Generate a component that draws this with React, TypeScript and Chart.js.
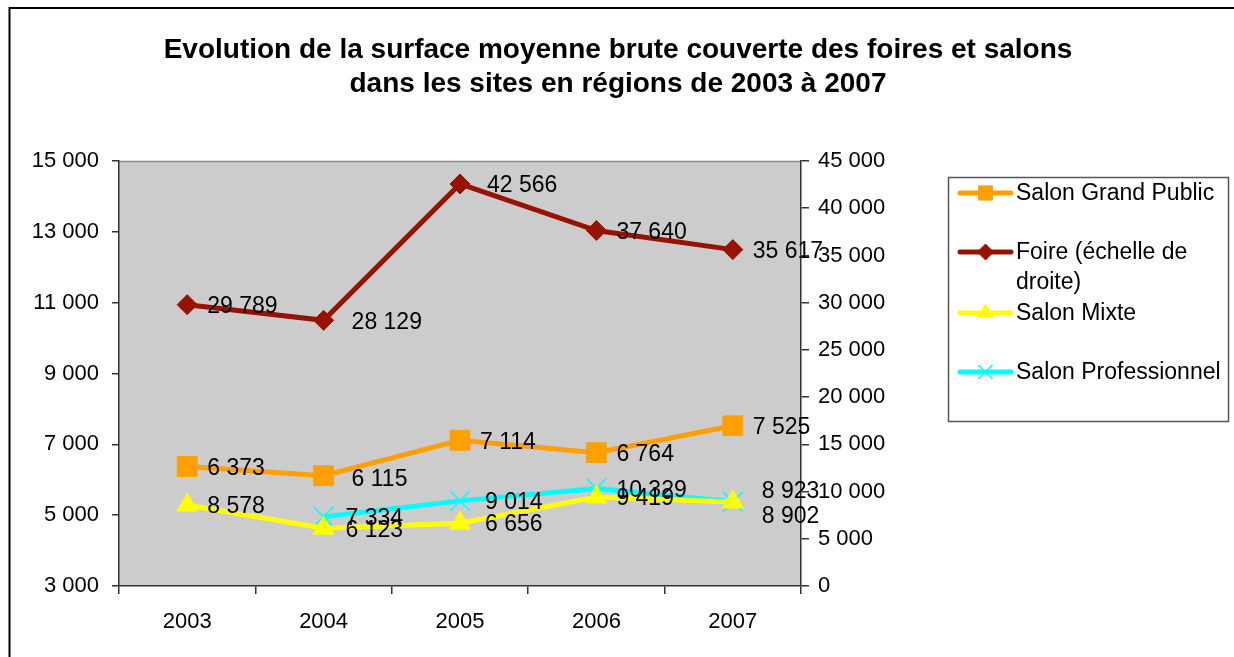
import React, { useEffect, useRef } from 'react';
import { Chart, registerables } from 'chart.js';
import { drawPoint } from 'chart.js/helpers';

Chart.register(...registerables);

// ---- data ----
const years = ['2003', '2004', '2005', '2006', '2007'];
const salonGrandPublic = [6373, 6115, 7114, 6764, 7525];
const foire = [29789, 28129, 42566, 37640, 35617];
const salonMixte = [8578, 6123, 6656, 9419, 8902];
const salonProfessionnel = [null, 7334, 9014, 10329, 8923];
const seriesNames = ['Salon Grand Public', 'Foire (échelle de droite)', 'Salon Mixte', 'Salon Professionnel'];
const legendLines = [['Salon Grand Public'], ['Foire (échelle de', 'droite)'], ['Salon Mixte'], ['Salon Professionnel']];
const titleLines = [
  'Evolution de la surface moyenne brute couverte des foires et salons',
  'dans les sites en régions de 2003 à 2007',
];

const FONT = '"Liberation Sans", Arial, Helvetica, sans-serif';
const fmt = (v: number) => String(Math.round(v)).replace(/\B(?=(\d{3})+(?!\d))/g, ' ');

const COLORS = ['#FFA000', '#981200', '#FFFF00', '#00FFFF'];

const decorPlugin = {
  id: 'decor',
  beforeDraw(chart: any) {
    const { ctx, chartArea: a } = chart;
    ctx.save();
    ctx.fillStyle = '#ffffff';
    ctx.fillRect(0, 0, chart.width, chart.height);
    // outer frame (top & left visible)
    ctx.strokeStyle = '#000';
    ctx.lineWidth = 2;
    ctx.strokeRect(9.5, 8, 1400, 800);
    // plot area
    ctx.fillStyle = '#CCCCCC';
    ctx.fillRect(a.left, a.top, a.right - a.left, a.bottom - a.top);
    ctx.strokeStyle = '#8a8a8a';
    ctx.lineWidth = 1.5;
    ctx.beginPath();
    ctx.moveTo(a.left, a.top + 0.5);
    ctx.lineTo(a.right, a.top + 0.5);
    ctx.stroke();
    // title
    ctx.fillStyle = '#000';
    ctx.font = `bold 28px ${FONT}`;
    ctx.textAlign = 'center';
    ctx.textBaseline = 'alphabetic';
    ctx.fillText(titleLines[0], 618, 57.5);
    ctx.fillText(titleLines[1], 618, 92);
    ctx.restore();
  },
  afterDatasetsDraw(chart: any) {
    const { ctx } = chart;
    ctx.save();
    ctx.font = `23px ${FONT}`;
    ctx.fillStyle = '#000';
    ctx.textAlign = 'left';
    ctx.textBaseline = 'middle';
    chart.data.datasets.forEach((ds: any, di: number) => {
      const meta = chart.getDatasetMeta(di);
      meta.data.forEach((pt: any, i: number) => {
        const v = ds.data[i];
        if (v == null) return;
        const off = (ds.labelOffsets && ds.labelOffsets[i]) || [0, 0];
        ctx.fillText(fmt(v), pt.x + 20 + off[0], pt.y + 2 + off[1]);
      });
    });
    ctx.restore();
  },
  afterDraw(chart: any) {
    const { ctx } = chart;
    ctx.save();
    // legend box
    ctx.strokeStyle = '#555';
    ctx.lineWidth = 1.5;
    ctx.strokeRect(948.5, 177.5, 280, 244);
    const ys = [193, 252, 313, 372];
    const legendStyles = [
      { pointStyle: 'rect', radius: 10 },
      { pointStyle: 'rectRot', radius: 8 },
      { pointStyle: 'triangle', radius: 9 },
      { pointStyle: 'crossRot', radius: 10 },
    ];
    chart.data.datasets.forEach((ds: any, di: number) => {
      const y = ys[di];
      ctx.strokeStyle = COLORS[di];
      ctx.lineWidth = 5;
      ctx.lineCap = 'round';
      ctx.beginPath();
      ctx.moveTo(960, y);
      ctx.lineTo(1011, y);
      ctx.stroke();
      ctx.lineCap = 'butt';
      ctx.fillStyle = COLORS[di];
      ctx.strokeStyle = COLORS[di];
      ctx.lineWidth = di === 3 ? 1.5 : 1;
      drawPoint(ctx, { ...legendStyles[di], rotation: 0, borderWidth: ctx.lineWidth } as any, 985.5, y);
      ctx.fillStyle = '#000';
      ctx.font = `23px ${FONT}`;
      ctx.textAlign = 'left';
      ctx.textBaseline = 'middle';
      legendLines[di].forEach((t, li) => ctx.fillText(t, 1016, y + 1 + li * 30));
    });
    ctx.restore();
  },
};

export default function App() {
  const ref = useRef<HTMLCanvasElement | null>(null);
  useEffect(() => {
    document.body.style.margin = '0';
    const canvas = ref.current!;
    const tickFont = { family: FONT, size: 22 };
    const chart = new Chart(canvas, {
      type: 'line',
      data: {
        labels: years,
        datasets: [
          {
            label: seriesNames[0],
            data: salonGrandPublic,
            yAxisID: 'yLeft',
            borderColor: COLORS[0],
            backgroundColor: COLORS[0],
            borderWidth: 5,
            pointStyle: 'rect',
            pointRadius: 14,
            pointBorderWidth: 1,
            labelOffsets: [[0, 0], [8, 2], [0, 0], [0, 0], [0, 0]],
          } as any,
          {
            label: seriesNames[1],
            data: foire,
            yAxisID: 'yRight',
            borderColor: COLORS[1],
            backgroundColor: COLORS[1],
            borderWidth: 5,
            pointStyle: 'rectRot',
            pointRadius: 10,
            pointBorderWidth: 1,
            labelOffsets: [[0, 0], [8, 0], [7, 0], [0, 0], [0, 0]],
          } as any,
          {
            label: seriesNames[2],
            data: salonMixte,
            yAxisID: 'yRight',
            borderColor: COLORS[2],
            backgroundColor: COLORS[2],
            borderWidth: 5,
            pointStyle: 'triangle',
            pointRadius: 12,
            pointBorderWidth: 1,
            labelOffsets: [[0, 0], [2, 0], [5, 0], [0, 0], [9, 13]],
          } as any,
          {
            label: seriesNames[3],
            data: salonProfessionnel,
            yAxisID: 'yRight',
            borderColor: COLORS[3],
            backgroundColor: COLORS[3],
            borderWidth: 5,
            pointStyle: 'crossRot',
            pointRadius: 14,
            pointBorderWidth: 1.5,
            spanGaps: true,
            labelOffsets: [[0, 0], [2, 0], [5, 0], [0, 0], [9, -12]],
          } as any,
        ],
      },
      options: {
        responsive: false,
        animation: false,
        devicePixelRatio: 1,
        layout: { padding: { top: 161, left: 0, right: 333, bottom: 0 } },
        elements: { line: { tension: 0 } },
        plugins: {
          legend: { display: false },
          title: { display: false },
          tooltip: { enabled: false },
        },
        scales: {
          x: {
            type: 'category',
            offset: true,
            grid: { offset: true, drawOnChartArea: false, drawTicks: true, tickLength: 8, color: '#333', lineWidth: 1.5 },
            border: { color: '#333', width: 1.5 },
            ticks: { font: tickFont, color: '#000', padding: 15, maxRotation: 0 },
            afterFit: (s: any) => { s.height = 71; },
          },
          yLeft: {
            type: 'linear',
            position: 'left',
            min: 3000,
            max: 15000,
            grid: { drawOnChartArea: false, drawTicks: true, tickLength: 7, color: '#333', lineWidth: 1.5 },
            border: { color: '#333', width: 1.5 },
            ticks: { stepSize: 2000, font: tickFont, color: '#000', padding: 13, callback: (v: any) => fmt(Number(v)) },
            afterFit: (s: any) => { s.width = 119; },
          },
          yRight: {
            type: 'linear',
            position: 'right',
            min: 0,
            max: 45000,
            grid: { drawOnChartArea: false, drawTicks: true, tickLength: 8, color: '#333', lineWidth: 1.5 },
            border: { color: '#333', width: 1.5 },
            ticks: { stepSize: 5000, font: tickFont, color: '#000', padding: 9, callback: (v: any) => fmt(Number(v)) },
            afterFit: (s: any) => { s.width = 100; },
          },
        },
      } as any,
      plugins: [decorPlugin],
    });
    return () => chart.destroy();
  }, []);
  return (
    <div style={{ width: 1234, height: 657 }}>
      <canvas ref={ref} width={1234} height={657} style={{ display: 'block', width: 1234, height: 657 }} />
    </div>
  );
}
